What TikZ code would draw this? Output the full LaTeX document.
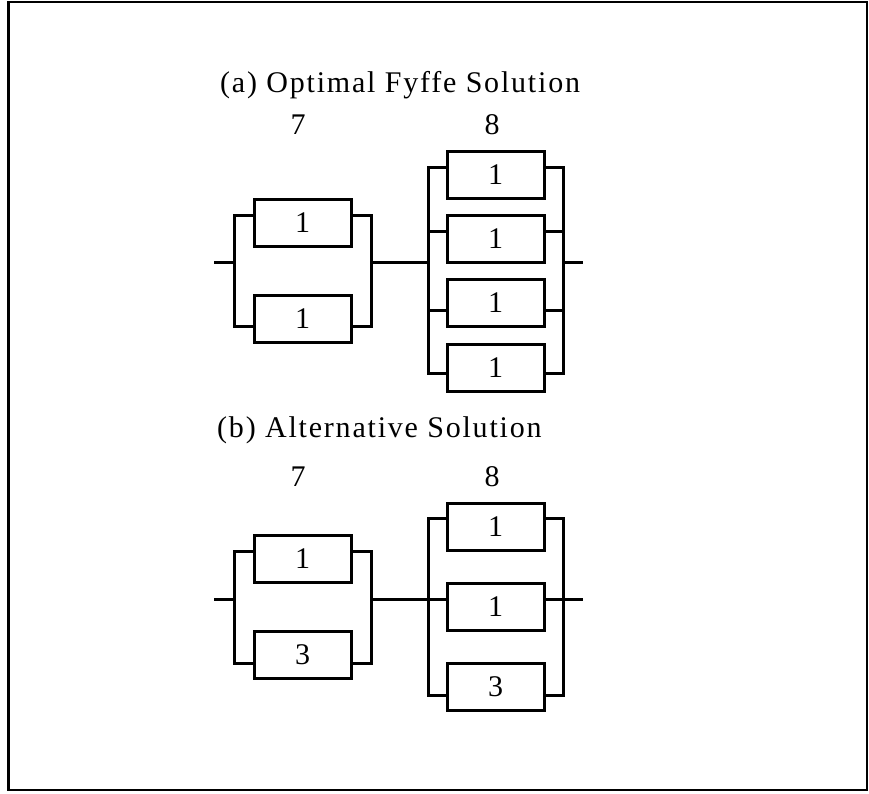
\documentclass[tikz,border=0pt]{standalone}
\usepackage{fontspec}
\setmainfont{Liberation Serif}
\newfontfamily\spacedfont[LetterSpace=6]{Liberation Serif}
\begin{document}
\begin{tikzpicture}[x=1pt,y=-1pt,
  comp/.style={draw, line width=3pt, fill=white, minimum width=97pt, minimum height=47pt, inner sep=0pt, font=\fontsize{30}{32}\selectfont},
  wire/.style={line width=3pt, line join=miter},
  lbl/.style={font=\fontsize{30}{32}\selectfont, inner sep=0pt},
  ttl/.style={font=\spacedfont\fontsize{30}{32}\selectfont, inner sep=0pt, anchor=base west}]
\useasboundingbox (0,0) rectangle (869,793);
\draw[line width=2.4pt] (8.5,2) rectangle (867,790);

% ---------- (a) ----------
\node[ttl] (ta) at (220,92) {(a) Optimal Fyffe Solution};
\node[lbl] (a7) at (298,125) {7};
\node[lbl] (a8) at (492,125) {8};

\node[comp] (A1) at (302.5,222.5) {1};
\node[comp] (A2) at (302.5,318.5) {1};
\node[comp] (B1) at (495.5,175) {1};
\node[comp] (B2) at (495.5,238.5) {1};
\node[comp] (B3) at (495.5,302.5) {1};
\node[comp] (B4) at (495.5,367.5) {1};

\coordinate (ain) at (214,262);
\coordinate (al) at (234,262);
\coordinate (ar) at (371,262);
\coordinate (bl) at (428,262);
\coordinate (br) at (563,262);
\coordinate (aout) at (583,262);
\coordinate (alt) at (234,215);
\coordinate (alb) at (234,326);
\coordinate (art) at (371,215);
\coordinate (arb) at (371,326);
\coordinate (bl1) at (428,167);
\coordinate (bl2) at (428,231);
\coordinate (bl3) at (428,310);
\coordinate (bl4) at (428,373);
\coordinate (br1) at (563,167);
\coordinate (br2) at (563,231);
\coordinate (br3) at (563,310);
\coordinate (br4) at (563,373);

\draw[wire] (ain) -- (al);
\draw[wire] (ar) -- (bl);
\draw[wire] (br) -- (aout);
\draw[wire] (A1.west |- alt) -- (alt) -- (alb) -- (A2.west |- alb);
\draw[wire] (A1.east |- art) -- (art) -- (arb) -- (A2.east |- arb);
\draw[wire] (B1.west |- bl1) -- (bl1) -- (bl4) -- (B4.west |- bl4);
\draw[wire] (bl2) -- (B2.west |- bl2);
\draw[wire] (bl3) -- (B3.west |- bl3);
\draw[wire] (B1.east |- br1) -- (br1) -- (br4) -- (B4.east |- br4);
\draw[wire] (br2) -- (B2.east |- br2);
\draw[wire] (br3) -- (B3.east |- br3);

% ---------- (b) ----------
\node[ttl] (tb) at (217,437) {(b) Alternative Solution};
\node[lbl] (b7) at (298,477) {7};
\node[lbl] (b8) at (492,477) {8};

\node[comp] (C1) at (302.5,559) {1};
\node[comp] (C2) at (302.5,654.5) {3};
\node[comp] (D1) at (495.5,527) {1};
\node[comp] (D2) at (495.5,607) {1};
\node[comp] (D3) at (495.5,687) {3};

\coordinate (cin) at (214,599);
\coordinate (cl) at (234,599);
\coordinate (cr) at (371,599);
\coordinate (dl) at (428,599);
\coordinate (dr) at (563,599);
\coordinate (dout) at (583,599);
\coordinate (clt) at (234,551);
\coordinate (clb) at (234,663);
\coordinate (crt) at (371,551);
\coordinate (crb) at (371,663);
\coordinate (dl1) at (428,518);
\coordinate (dl3) at (428,695);
\coordinate (dr1) at (563,518);
\coordinate (dr3) at (563,695);

\draw[wire] (cin) -- (cl);
\draw[wire] (cr) -- (dl);
\draw[wire] (dr) -- (dout);
\draw[wire] (C1.west |- clt) -- (clt) -- (clb) -- (C2.west |- clb);
\draw[wire] (C1.east |- crt) -- (crt) -- (crb) -- (C2.east |- crb);
\draw[wire] (D1.west |- dl1) -- (dl1) -- (dl3) -- (D3.west |- dl3);
\draw[wire] (dl) -- (D2.west |- dl);
\draw[wire] (D1.east |- dr1) -- (dr1) -- (dr3) -- (D3.east |- dr3);
\draw[wire] (dr) -- (D2.east |- dr);
\end{tikzpicture}
\end{document}
